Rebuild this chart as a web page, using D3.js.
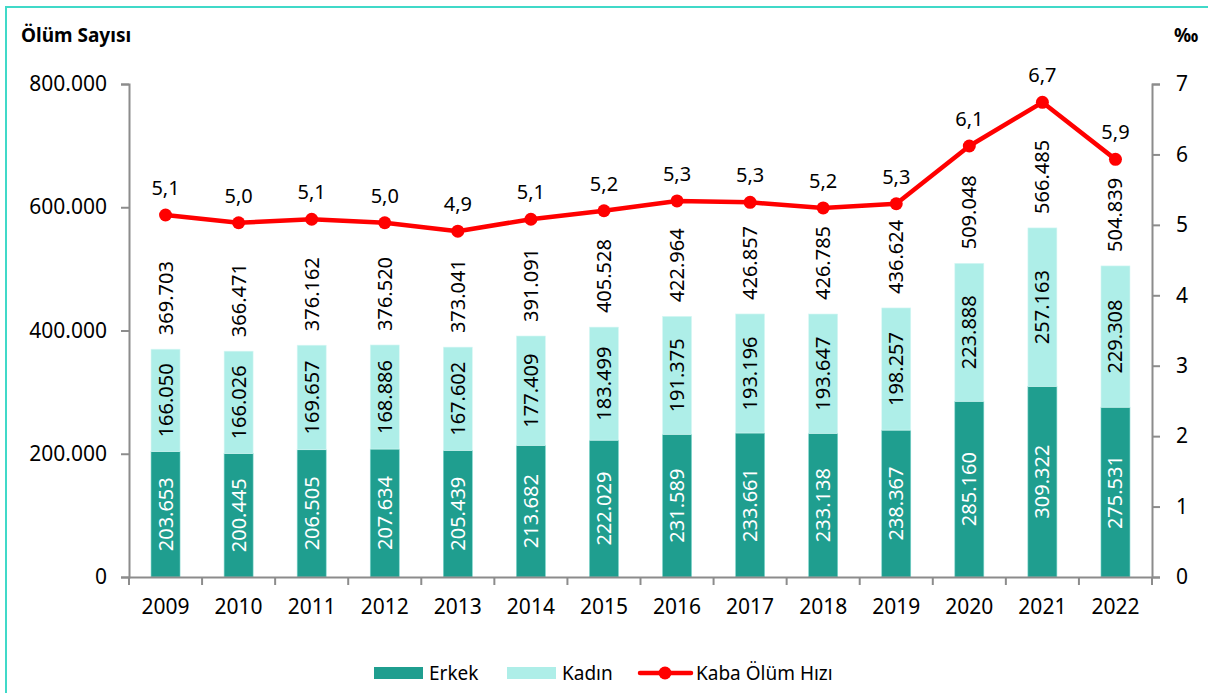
<!DOCTYPE html>
<html>
<head>
<meta charset="utf-8">
<title>Ölüm Sayısı</title>
<script src="https://cdnjs.cloudflare.com/ajax/libs/d3/7.8.5/d3.min.js"></script>
<style>
body { margin: 0; background: #fff; }
svg text { font-family: "Noto Sans", "Open Sans", sans-serif; fill: #000; }
.axis path, .axis line { stroke: #8c8c8c; stroke-width: 2px; }
</style>
</head>
<body>
<script>
// values
var years = ["2009", "2010", "2011", "2012", "2013", "2014", "2015", "2016", "2017", "2018", "2019", "2020", "2021", "2022"];
var erkek = [203653, 200445, 206505, 207634, 205439, 213682, 222029, 231589, 233661, 233138, 238367, 285160, 309322, 275531];
var kadin = [166050, 166026, 169657, 168886, 167602, 177409, 183499, 191375, 193196, 193647, 198257, 223888, 257163, 229308];
var toplam = [369703, 366471, 376162, 376520, 373041, 391091, 405528, 422964, 426857, 426785, 436624, 509048, 566485, 504839];
var hiz = [5.14, 5.03, 5.08, 5.03, 4.91, 5.08, 5.2, 5.34, 5.32, 5.24, 5.3, 6.12, 6.74, 5.93];
var leftTicks = [0, 200000, 400000, 600000, 800000];
var rightTicks = [0, 1, 2, 3, 4, 5, 6, 7];

var width = 1208, height = 693;
var x0 = 129, x1 = 1152, yTop = 84, yBot = 577;

var svg = d3.select("body").append("svg")
  .attr("width", width)
  .attr("height", height);

// frame
svg.append("rect")
  .attr("x", 6).attr("y", 7)
  .attr("width", 1220).attr("height", 700)
  .attr("fill", "none")
  .attr("stroke", "#40d9c8")
  .attr("stroke-width", 2);

var xb = d3.scaleBand().domain(years).range([x0, x1]);
var y = d3.scaleLinear().domain([0, 800000]).range([yBot, yTop]);
var yR = d3.scaleLinear().domain([0, 7]).range([yBot, yTop]);

var fmt = function(v) { return d3.format(",")(v).replace(/,/g, "."); };
var fmtR = function(v) { return v.toFixed(1).replace(".", ","); };

// bars
var g = svg.append("g");
years.forEach(function(yr, i) {
  var bx = xb(yr) + xb.bandwidth() / 2 - 14.5;
  g.append("rect")
    .attr("x", bx).attr("width", 29)
    .attr("y", y(erkek[i])).attr("height", y(0) - y(erkek[i]))
    .attr("fill", "#1f9e8f").attr("stroke", "#7fd6cc").attr("stroke-width", 0.6);
  g.append("rect")
    .attr("x", bx).attr("width", 29)
    .attr("y", y(erkek[i] + kadin[i])).attr("height", y(erkek[i]) - y(erkek[i] + kadin[i]))
    .attr("fill", "#aeeee8").attr("stroke", "#d8f7f4").attr("stroke-width", 0.6);
});

// bar labels
years.forEach(function(yr, i) {
  var cx = xb(yr) + xb.bandwidth() / 2;
  var cy1 = (y(0) + y(erkek[i])) / 2;
  var cy2 = (y(erkek[i]) + y(erkek[i] + kadin[i])) / 2;
  svg.append("text")
    .attr("transform", "translate(" + (cx + 7) + "," + cy1 + ") rotate(-90)")
    .attr("text-anchor", "middle")
    .style("font-size", "20px")
    .style("fill", "#fff")
    .text(fmt(erkek[i]));
  svg.append("text")
    .attr("transform", "translate(" + (cx + 7) + "," + cy2 + ") rotate(-90)")
    .attr("text-anchor", "middle")
    .style("font-size", "20px")
    .text(fmt(kadin[i]));
  svg.append("text")
    .attr("transform", "translate(" + (cx + 7) + "," + (y(toplam[i]) - 14) + ") rotate(-90)")
    .attr("text-anchor", "start")
    .style("font-size", "20px")
    .text(fmt(toplam[i]));
});

// axes
var axL = svg.append("g").attr("class", "axis")
  .attr("transform", "translate(" + x0 + ",0)")
  .call(d3.axisLeft(y).tickValues(leftTicks).tickSize(8).tickPadding(14).tickFormat(fmt));
var axR = svg.append("g").attr("class", "axis")
  .attr("transform", "translate(" + x1 + ",0)")
  .call(d3.axisRight(yR).tickValues(rightTicks).tickSize(8).tickPadding(16).tickFormat(d3.format("d")));
var axB = svg.append("g").attr("class", "axis")
  .attr("transform", "translate(0," + yBot + ")")
  .call(d3.axisBottom(xb).tickSize(0).tickPadding(22));
axB.selectAll(".tick").each(function(d) {
  d3.select(this).append("line")
    .attr("x1", -xb.bandwidth() / 2).attr("x2", -xb.bandwidth() / 2)
    .attr("y1", 0).attr("y2", 8)
    .attr("stroke", "#8c8c8c").attr("stroke-width", 2);
});
axB.append("line")
  .attr("x1", x1).attr("x2", x1).attr("y1", 0).attr("y2", 8)
  .attr("stroke", "#8c8c8c").attr("stroke-width", 2);
svg.selectAll(".axis text").style("font-size", "21px").style("fill", "#000");
svg.selectAll(".axis .domain").attr("stroke", "#8c8c8c");

// line
var cxOf = function(i) { return xb(years[i]) + xb.bandwidth() / 2; };
var line = d3.line()
  .x(function(d, i) { return cxOf(i); })
  .y(function(d) { return yR(d); });
svg.append("path")
  .datum(hiz)
  .attr("d", line)
  .attr("fill", "none")
  .attr("stroke", "#ff0000")
  .attr("stroke-width", 4.5)
  .attr("stroke-linejoin", "round");
svg.selectAll(".dot").data(hiz).enter().append("circle")
  .attr("cx", function(d, i) { return cxOf(i); })
  .attr("cy", function(d) { return yR(d); })
  .attr("r", 6.5)
  .attr("fill", "#ff0000");
svg.selectAll(".rl").data(hiz).enter().append("text")
  .attr("x", function(d, i) { return cxOf(i); })
  .attr("y", function(d) { return yR(d) - 20; })
  .attr("text-anchor", "middle")
  .style("font-size", "20px")
  .text(fmtR);

// axis titles
svg.append("text").attr("x", 21).attr("y", 42)
  .style("font-size", "19px").style("font-weight", "bold")
  .text("Ölüm Sayısı");
svg.append("text").attr("x", 1174).attr("y", 42)
  .style("font-size", "19px").style("font-weight", "bold")
  .text("‰");

// legend
var lg = svg.append("g").style("font-size", "19px");
lg.append("rect").attr("x", 374).attr("y", 667).attr("width", 49).attr("height", 12).attr("fill", "#1f9e8f");
lg.append("text").attr("x", 429).attr("y", 680).text("Erkek");
lg.append("rect").attr("x", 507).attr("y", 667).attr("width", 49).attr("height", 12).attr("fill", "#aeeee8");
lg.append("text").attr("x", 562).attr("y", 680).text("Kadın");
lg.append("line").attr("x1", 640).attr("x2", 691).attr("y1", 673).attr("y2", 673)
  .attr("stroke", "#ff0000").attr("stroke-width", 4.5).attr("stroke-linecap", "round");
lg.append("circle").attr("cx", 665).attr("cy", 673).attr("r", 6.5).attr("fill", "#ff0000");
lg.append("text").attr("x", 696).attr("y", 680).text("Kaba Ölüm Hızı");
</script>
</body>
</html>
